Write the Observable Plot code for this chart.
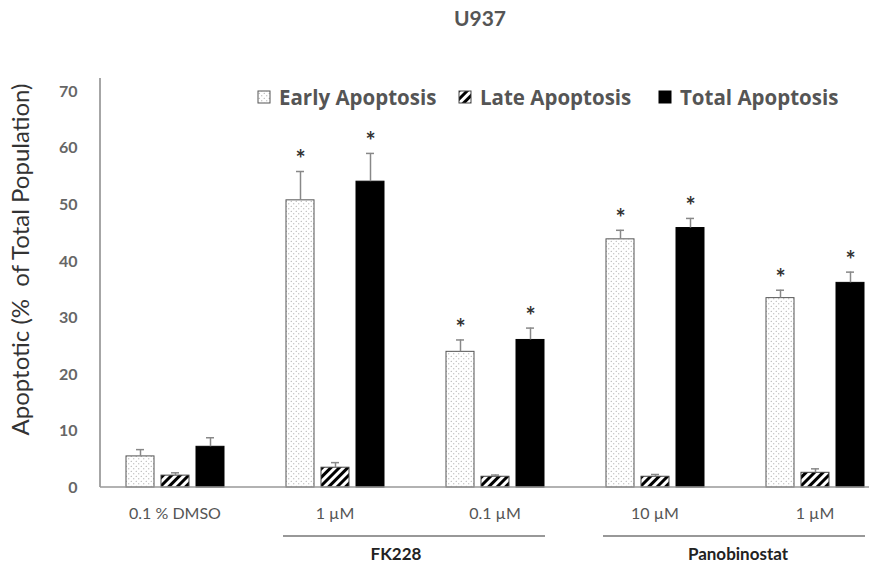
<!DOCTYPE html>
<html>
<head>
<meta charset="utf-8">
<script src="https://cdn.jsdelivr.net/npm/d3@7"></script>
<script src="https://cdn.jsdelivr.net/npm/@observablehq/plot@0.6"></script>
<style>
  html, body { margin: 0; padding: 0; background: #fff; }
  #chart svg { display: block; }
</style>
</head>
<body>
<div id="chart"></div>
<script>
// ---- data ----
const titleText = "U937";
const yLabel = "Apoptotic (%\u00a0 of Total Population)";
const conditionIds = ["dmso", "fk1", "fk01", "pan10", "pan1"];
const conditionLabels = ["0.1 % DMSO", "1 µM", "0.1 µM", "10 µM", "1 µM"];
const seriesNames = ["Early Apoptosis", "Late Apoptosis", "Total Apoptosis"];

const earlyValues = [5.5, 50.8, 24.0, 43.9, 33.5];
const earlyErrors = [1.2, 5.1, 2.1, 1.6, 1.4];
const earlyStars  = [false, true, true, true, true];

const lateValues = [2.1, 3.5, 1.9, 1.9, 2.6];
const lateErrors = [0.5, 0.9, 0.3, 0.4, 0.7];
const lateStars  = [false, false, false, false, false];

const totalValues = [7.2, 54.1, 26.1, 45.9, 36.2];
const totalErrors = [1.6, 5.0, 2.1, 1.7, 1.9];
const totalStars  = [false, true, true, true, true];

const yTicks = [0, 10, 20, 30, 40, 50, 60, 70];
const yMax = 72;

const groupNames = ["FK228", "Panobinostat"];
const groupFirst = ["fk1", "pan10"];
const groupLast  = ["fk01", "pan1"];

// ---- build table ----
const seriesData = [
  [earlyValues, earlyErrors, earlyStars],
  [lateValues, lateErrors, lateStars],
  [totalValues, totalErrors, totalStars]
];
const rows = [];
conditionIds.forEach((c, i) => {
  seriesNames.forEach((s, j) => {
    const [v, e, st] = seriesData[j];
    rows.push({cond: c, series: s, value: v[i], err: e[i], sig: st[i]});
  });
});
const labelOf = Object.fromEntries(conditionIds.map((c, i) => [c, conditionLabels[i]]));

const fills = {"Early Apoptosis": "url(#dots)", "Late Apoptosis": "url(#hatch)", "Total Apoptosis": "#000"};
const strokes = {"Early Apoptosis": "#555", "Late Apoptosis": "#444", "Total Apoptosis": "#000"};
const errTop = d => d.value + d.err;

const chart = Plot.plot({
  width: 880,
  height: 567,
  marginLeft: 100,
  marginRight: -9,
  marginTop: 80,
  marginBottom: 80,
  style: {fontFamily: "Lato, 'Open Sans', sans-serif", background: "#fff", overflow: "visible"},
  fx: {domain: conditionIds, paddingInner: 0.06875, paddingOuter: 0, align: 0.5, label: null},
  x: {domain: seriesNames, paddingInner: 0.211, paddingOuter: 0.704, axis: null},
  y: {domain: [0, yMax]},
  marks: [
    ...seriesNames.map(s => Plot.barY(rows.filter(d => d.series === s), {
      fx: "cond", x: "series", y: "value",
      fill: fills[s], stroke: strokes[s], strokeWidth: 1
    })),
    Plot.ruleX(rows, {fx: "cond", x: "series", y1: "value", y2: errTop, stroke: "#888", strokeWidth: 1.5}),
    Plot.tickY(rows, {fx: "cond", x: "series", y: errTop, stroke: "#888", strokeWidth: 1.5, insetLeft: 10, insetRight: 10}),
    Plot.text(rows.filter(d => d.sig), {
      fx: "cond", x: "series", y: errTop, text: () => "*",
      dy: -11, fontSize: 24, fontWeight: "bold", fill: "#333"
    }),
    Plot.axisY({ticks: yTicks, tickSize: 0, tickPadding: 23, fontSize: 16, fontWeight: "bold", color: "#666", label: null}),
    Plot.axisFx({anchor: "bottom", tickSize: 0, tickPadding: 20, tickFormat: c => labelOf[c], fontSize: 16, color: "#555", label: null})
  ]
});

document.getElementById("chart").appendChild(chart);

// ---- patterns, axis lines, legend, annotations ----
const svg = d3.select(chart);
const defs = svg.insert("defs", ":first-child");
const dots = defs.append("pattern").attr("id", "dots").attr("width", 5).attr("height", 5)
  .attr("patternUnits", "userSpaceOnUse");
dots.append("rect").attr("width", 5).attr("height", 5).attr("fill", "#fff");
dots.append("circle").attr("cx", 1.25).attr("cy", 1.25).attr("r", 0.6).attr("fill", "#999");
dots.append("circle").attr("cx", 3.75).attr("cy", 3.75).attr("r", 0.6).attr("fill", "#999");
const hatch = defs.append("pattern").attr("id", "hatch").attr("width", 6).attr("height", 6)
  .attr("patternUnits", "userSpaceOnUse").attr("patternTransform", "rotate(45)");
hatch.append("rect").attr("width", 6).attr("height", 6).attr("fill", "#fff");
hatch.append("rect").attr("width", 3).attr("height", 6).attr("fill", "#000");

const fxS = chart.scale("fx");
const yS = chart.scale("y");
const bandFx = d3.scaleBand(fxS.domain, fxS.range)
  .paddingInner(fxS.paddingInner ?? 0.06875).paddingOuter(fxS.paddingOuter ?? 0).align(fxS.align ?? 0.5);
const fxAt = c => (fxS.apply ? fxS.apply(c) : bandFx(c));
const bw = fxS.bandwidth ?? bandFx.bandwidth();
const yAt = v => (yS.apply ? yS.apply(v) : d3.scaleLinear(yS.domain, yS.range)(v));

const y0 = yAt(0);
const x0 = fxAt(conditionIds[0]);
const overlay = svg.append("g");
// y axis line
overlay.append("line").attr("x1", x0).attr("x2", x0).attr("y1", y0).attr("y2", yAt(yMax) - 2)
  .attr("stroke", "#888").attr("stroke-width", 1.5);
// baseline
overlay.append("line").attr("x1", x0).attr("x2", fxAt(conditionIds[conditionIds.length - 1]) + bw - 20)
  .attr("y1", y0).attr("y2", y0).attr("stroke", "#999").attr("stroke-width", 1.5);

// group brackets
const labelShift = [-18, 4];
groupNames.forEach((g, i) => {
  const a = fxAt(groupFirst[i]) + 23;
  const b = fxAt(groupLast[i]) + bw - 24;
  overlay.append("line").attr("x1", a).attr("x2", b).attr("y1", y0 + 49).attr("y2", y0 + 49)
    .attr("stroke", "#333").attr("stroke-width", 1.2);
  overlay.append("text").attr("x", (a + b) / 2 + labelShift[i]).attr("y", y0 + 73).attr("text-anchor", "middle")
    .attr("font-size", 17).attr("font-weight", "bold").attr("fill", "#222").text(g);
});

// title
overlay.append("text").attr("x", 480).attr("y", 26).attr("text-anchor", "middle")
  .attr("font-size", 21).attr("font-weight", "bold").attr("fill", "#555").text(titleText);

// y label
overlay.append("text").attr("transform", `translate(23,${(y0 + yAt(yMax)) / 2 - 24}) rotate(-90)`)
  .attr("text-anchor", "middle").attr("dominant-baseline", "middle")
  .attr("font-size", 24).attr("fill", "#333").text(yLabel);

// legend
const legendX = [258, 459, 659];
seriesNames.forEach((s, i) => {
  const lg = overlay.append("g").attr("transform", `translate(${legendX[i]},97)`);
  lg.append("rect").attr("x", 0).attr("y", -6).attr("width", 12).attr("height", 12)
    .attr("fill", fills[s]).attr("stroke", strokes[s]).attr("stroke-width", 1);
  lg.append("text").attr("x", 21).attr("y", 0).attr("dominant-baseline", "central")
    .attr("text-anchor", "start").attr("font-family", "'Open Sans', sans-serif")
    .attr("font-size", 20.5).attr("font-weight", "bold")
    .attr("fill", "#555").text(s);
});
</script>
</body>
</html>
